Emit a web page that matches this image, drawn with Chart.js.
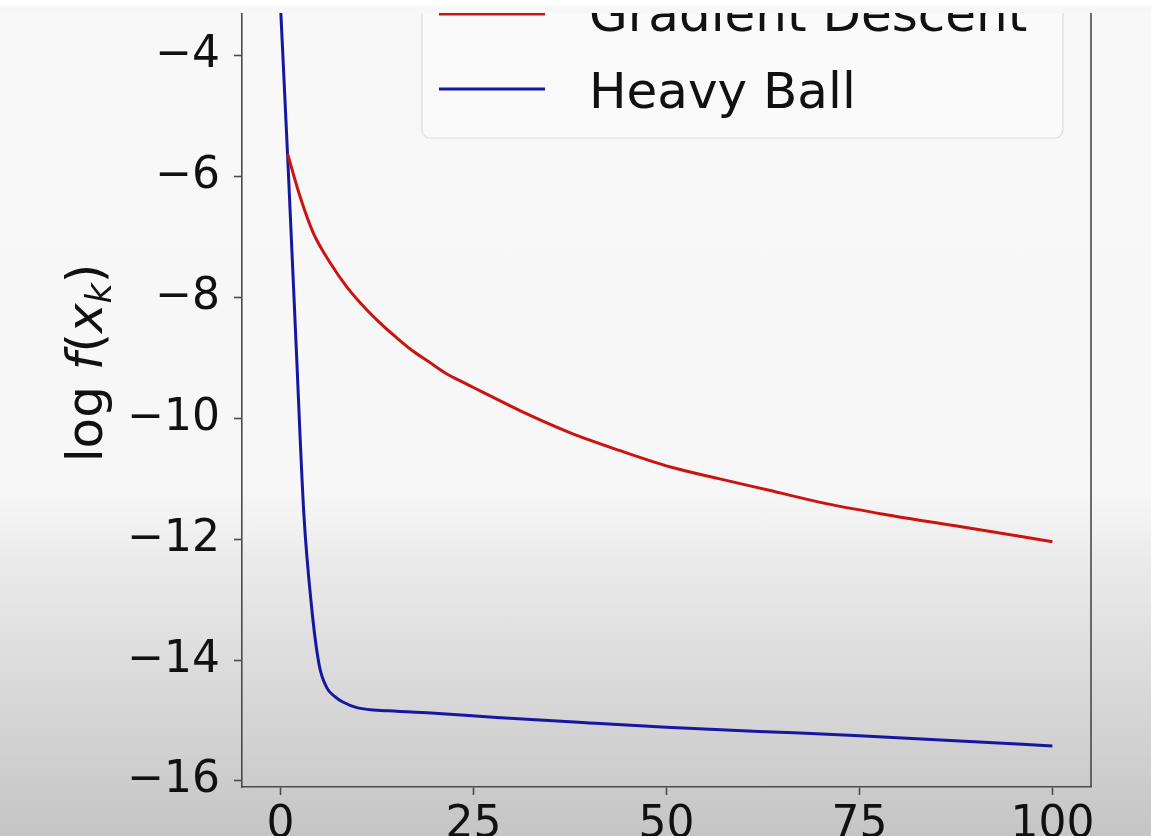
<!DOCTYPE html>
<html>
<head>
<meta charset="utf-8">
<title>Gradient Descent vs Heavy Ball</title>
<script src="https://cdn.jsdelivr.net/npm/chart.js@4.4.0/dist/chart.umd.min.js"></script>
<style>
    html, body { margin: 0; padding: 0; }
    body {
        width: 1151px;
        height: 836px;
        overflow: hidden;
        background: linear-gradient(to bottom, #f8f8f8 0px, #f7f7f7 490px, #ebebeb 560px, #dadada 680px, #c5c5c5 836px);
    }
    #wrap { position: relative; width: 1151px; height: 836px; }
    #topband {
        position: absolute; left: 0; top: 0; width: 1151px; height: 13px;
        background: linear-gradient(to bottom, #ffffff 0px, #ffffff 6px, #f7f7f7 6px);
    }
</style>
</head>
<body>
<div id="wrap">
    <canvas id="lossChart"></canvas>
    <div id="topband"></div>
</div>
<script>
// Data (iteration k, log f(x_k)).
// Gradient Descent is hidden under Heavy Ball until it branches off near k = 1.
const gdIters   = [0.9, 2.5, 4.2, 6.4, 8.5, 10.7, 12.8, 15, 17.1, 19.3, 21.5, 23.6, 25.8, 31, 37.4, 43.9, 50.4, 56.9, 63.3, 70.7, 79.3, 88, 100];
const gdValues  = [-5.62, -6.32, -6.92, -7.42, -7.81, -8.14, -8.41, -8.66, -8.88, -9.07, -9.26, -9.4, -9.54, -9.87, -10.23, -10.53, -10.8, -11.0, -11.19, -11.41, -11.61, -11.79, -12.04];

const hbIters   = [0, 1, 2, 3, 4, 5, 6, 7, 8, 10, 14, 20, 28, 40, 50, 62, 75, 88, 100];
const hbValues  = [-3.2, -5.9, -8.75, -11.55, -13.1, -14.08, -14.46, -14.6, -14.69, -14.79, -14.84, -14.88, -14.95, -15.04, -15.11, -15.18, -15.25, -15.34, -15.42];

const seriesNames = ["Gradient Descent", "Heavy Ball"];
const xTicks = [0, 25, 50, 75, 100];
const yTicks = [-16, -14, -12, -10, -8, -6, -4];

const FONT = "'DejaVu Sans', sans-serif";
const spineColor = "#4a4a4a";

const toPoints = (xs, ys) => xs.map((x, i) => ({ x: x, y: ys[i] }));
const minusLabel = v => (v < 0 ? "\u2212" + Math.abs(v) : String(v));

// Right spine (matplotlib box)
const rightSpine = {
    id: "rightSpine",
    afterDraw(chart) {
        const { ctx, chartArea } = chart;
        ctx.save();
        ctx.strokeStyle = spineColor;
        ctx.lineWidth = 1.6;
        ctx.beginPath();
        ctx.moveTo(chartArea.right, chartArea.top);
        ctx.lineTo(chartArea.right, chartArea.bottom);
        ctx.stroke();
        ctx.restore();
    }
};

// Legend box in the upper right corner of the axes
const boxLegend = {
    id: "boxLegend",
    afterDraw(chart) {
        const { ctx, chartArea } = chart;
        const right = chartArea.right - 28;
        const left = right - 641;
        const bottom = 138;
        const top = -60;
        ctx.save();
        ctx.beginPath();
        ctx.roundRect(left, top, right - left, bottom - top, 8);
        ctx.fillStyle = "rgba(250,250,250,0.85)";
        ctx.fill();
        ctx.strokeStyle = "#dcdcdc";
        ctx.lineWidth = 1.2;
        ctx.stroke();

        chart.data.datasets.forEach((ds, i) => {
            const lineY = chartArea.top + 1 + i * 75;
            const textY = chartArea.top + 18 + i * 77;
            ctx.strokeStyle = ds.borderColor;
            ctx.lineWidth = 3;
            ctx.beginPath();
            ctx.moveTo(left + 17, lineY);
            ctx.lineTo(left + 123, lineY);
            ctx.stroke();
            ctx.fillStyle = "#111";
            ctx.font = "50px " + FONT;
            ctx.textBaseline = "alphabetic";
            ctx.textAlign = "left";
            ctx.fillText(ds.label, left + 167, textY);
        });
        ctx.restore();
    }
};

// Rotated y axis title: log f(x_k)
const yTitle = {
    id: "yTitle",
    afterDraw(chart) {
        const { ctx } = chart;
        const size = 50;
        const parts = [
            { t: "log ", f: size + "px " + FONT, dy: 0 },
            { t: "f", f: "oblique " + size + "px " + FONT, dy: 0 },
            { t: "(", f: size + "px " + FONT, dy: 0 },
            { t: "x", f: "oblique " + size + "px " + FONT, dy: 0 },
            { t: "k", f: "oblique " + Math.round(size * 0.7) + "px " + FONT, dy: 9 },
            { t: ")", f: size + "px " + FONT, dy: 0 }
        ];
        ctx.save();
        let total = 0;
        parts.forEach(p => { ctx.font = p.f; p.w = ctx.measureText(p.t).width; total += p.w; });
        ctx.translate(102, 363 + total / 2);
        ctx.rotate(-Math.PI / 2);
        ctx.fillStyle = "#111";
        ctx.textBaseline = "alphabetic";
        ctx.textAlign = "left";
        let x = 0;
        parts.forEach(p => {
            ctx.font = p.f;
            ctx.fillText(p.t, x, p.dy);
            x += p.w;
        });
        ctx.restore();
    }
};

const canvas = document.getElementById("lossChart");
canvas.width = 1151;
canvas.height = 836;

const lossChart = new Chart(canvas.getContext("2d"), {
    type: "line",
    data: {
        datasets: [
            {
                label: seriesNames[0],
                data: toPoints(gdIters, gdValues),
                borderColor: "rgb(205,18,18)",
                borderWidth: 3,
                pointRadius: 0,
                cubicInterpolationMode: "monotone",
                fill: false
            },
            {
                label: seriesNames[1],
                data: toPoints(hbIters, hbValues),
                borderColor: "rgb(22,22,160)",
                borderWidth: 3,
                pointRadius: 0,
                cubicInterpolationMode: "monotone",
                fill: false
            }
        ]
    },
    options: {
        responsive: false,
        animation: false,
        layout: {
            padding: { top: 13, right: 60, left: 0, bottom: 0 }
        },
        plugins: {
            legend: { display: false },
            tooltip: { enabled: false }
        },
        scales: {
            x: {
                type: "linear",
                min: -5,
                max: 105,
                afterBuildTicks: scale => { scale.ticks = xTicks.map(v => ({ value: v })); },
                afterFit: scale => {
                    scale.height = 49;
                    scale.paddingLeft = 0;
                    scale.paddingRight = 0;
                },
                ticks: {
                    autoSkip: false,
                    maxRotation: 0,
                    padding: 4,
                    color: "#111",
                    font: { family: FONT, size: 44 },
                    callback: v => minusLabel(v)
                },
                grid: {
                    drawOnChartArea: false,
                    drawTicks: true,
                    tickLength: 8,
                    tickColor: spineColor,
                    tickWidth: 1.6
                },
                border: { display: true, color: spineColor, width: 1.6 }
            },
            y: {
                min: -16.1,
                max: -3.29,
                afterBuildTicks: scale => { scale.ticks = yTicks.map(v => ({ value: v })); },
                afterFit: scale => {
                    scale.width = 242;
                    scale.paddingTop = 0;
                    scale.paddingBottom = 0;
                },
                ticks: {
                    padding: 14,
                    color: "#111",
                    font: { family: FONT, size: 44 },
                    callback: v => minusLabel(v)
                },
                grid: {
                    drawOnChartArea: false,
                    drawTicks: true,
                    tickLength: 8,
                    tickColor: spineColor,
                    tickWidth: 1.6
                },
                border: { display: true, color: spineColor, width: 1.6 }
            }
        }
    },
    plugins: [rightSpine, boxLegend, yTitle]
});
</script>
</body>
</html>
